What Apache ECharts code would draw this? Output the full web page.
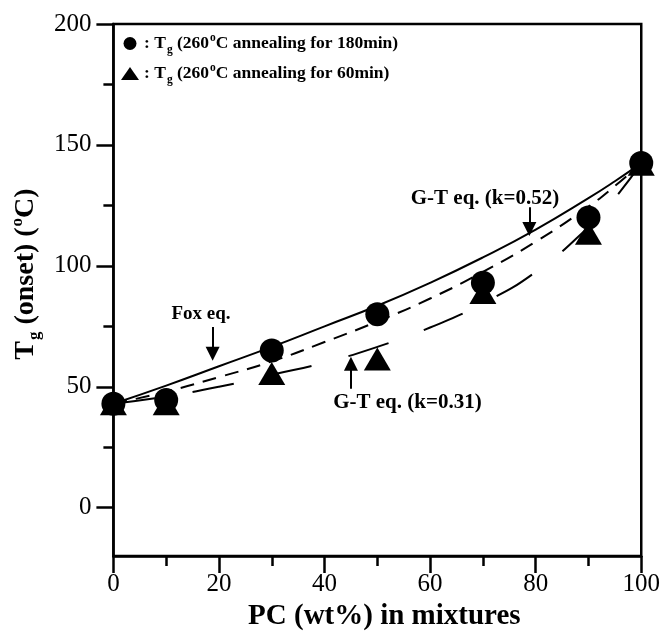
<!DOCTYPE html>
<html><head><meta charset="utf-8">
<script src="https://cdn.jsdelivr.net/npm/echarts@6/dist/echarts.min.js"></script>
<style>html,body{margin:0;padding:0;background:#fff}#c{width:663px;height:636px}</style>
</head><body><div id="c"></div><script>
// ---- data ----
const pcWt = [0, 10, 30, 50, 70, 90, 100];
const tg180 = [43, 44.5, 65, 80, 93, 120, 142.5];
const tg60 = [43, 43, 55.5, 61.5, 89, 113.5, 142];
const curveX = [0, 10, 20, 30, 40, 50, 60, 70, 80, 90, 95, 100];
const foxEq = [43, 50.5, 58.5, 66.5, 75, 83.5, 93, 103.5, 115, 128, 135, 142.5];
const gt052 = [43, 48, 54, 60.5, 68.5, 77, 86.5, 97.5, 110, 124.5, 133, 142.5];
const gt031 = [43, 46, 50, 55, 60, 66.5, 74.5, 84.5, 97.5, 116, 128, 142.5];
const yTicks = [0, 50, 100, 150, 200];
const yMinorTicks = [25, 75, 125, 175];
const annText = ['Fox eq.', 'G-T eq. (k=0.52)', 'G-T eq. (k=0.31)'];
const annTextX = [16.6, 70.4, 55.7];
const annTextY = [80.1, 127.8, 43.5];
const annFontSize = [19, 21, 21];
const arrowX = [18.8, 78.8, 45];
const arrowFrom = [74.7, 124.2, 49.2];
const arrowTo = [63.7, 115.2, 59.5];

const S180 = 'Tg (260°C annealing for 180min)';
const S60 = 'Tg (260°C annealing for 60min)';
const FF = 'Liberation Serif';
const zip = (xs, ys) => xs.map((x, i) => [x, ys[i]]);

const legendRich = {
  n: {fontFamily: FF, fontWeight: 'bold', fontSize: 17.5, color: '#000', lineHeight: 21},
  sub: {fontFamily: FF, fontWeight: 'bold', fontSize: 11.5, color: '#000', lineHeight: 11, padding: [13, 0, 0, 1]},
  sup: {fontFamily: FF, fontWeight: 'bold', fontSize: 11.5, color: '#000', lineHeight: 11, padding: [0, 0, 11, 1]}
};
const nameRich = {
  n: {fontFamily: FF, fontWeight: 'bold', fontSize: 28, color: '#000', lineHeight: 30},
  sub: {fontFamily: FF, fontWeight: 'bold', fontSize: 17, color: '#000', lineHeight: 17, padding: [18, 0, 0, 1]},
  sup: {fontFamily: FF, fontWeight: 'bold', fontSize: 17, color: '#000', lineHeight: 17, padding: [0, 0, 16, 1]}
};

const chart = echarts.init(document.getElementById('c'), null, {renderer: 'canvas'});
const axisLine = {show: true, onZero: false, lineStyle: {color: '#000', width: 2.5}};
const curveStyle = (type) => ({color: '#000', width: 2, type: type});

chart.setOption({
  animation: false,
  backgroundColor: '#fff',
  grid: {left: 110, right: 19, top: 24, bottom: 78, show: true, borderColor: '#000', borderWidth: 2.5, backgroundColor: 'transparent'},
  legend: {
    left: 116, top: 26, orient: 'vertical', itemGap: 5, itemWidth: 18, itemHeight: 13,
    data: [{name: S180, icon: 'circle'}, {name: S60, icon: 'triangle'}],
    formatter: function (n) {
      return n === S180
        ? '{n|: T}{sub|g}{n| (260}{sup|o}{n|C annealing for 180min)}'
        : '{n|: T}{sub|g}{n| (260}{sup|o}{n|C annealing for 60min)}';
    },
    textStyle: {rich: legendRich},
    selectedMode: false
  },
  xAxis: {
    type: 'value', min: 0, max: 100, interval: 20,
    axisLine: axisLine,
    axisTick: {show: true, inside: false, length: 17, lineStyle: {color: '#000', width: 2.5}},
    minorTick: {show: true, splitNumber: 2, length: 10, lineStyle: {color: '#000', width: 2.5}},
    splitLine: {show: false}, minorSplitLine: {show: false},
    axisLabel: {color: '#000', fontFamily: FF, fontSize: 25, margin: 16},
    name: 'PC (wt%) in mixtures', nameLocation: 'middle', nameGap: 40,
    nameTextStyle: {color: '#000', fontFamily: FF, fontWeight: 'bold', fontSize: 29, padding: [0, 0, 0, 14]}
  },
  yAxis: [{
    type: 'value', min: -20, max: 200,
    axisLine: axisLine,
    axisTick: {show: true, inside: false, length: 17, customValues: yTicks, lineStyle: {color: '#000', width: 2.5}},
    splitLine: {show: false},
    axisLabel: {color: '#000', fontFamily: FF, fontSize: 25, margin: 22, customValues: yTicks},
    name: '{n|T}{sub|g}{n| (onset) (}{sup|o}{n|C)}', nameLocation: 'middle', nameGap: 63, nameRotate: 90,
    nameTextStyle: {rich: nameRich, padding: [0, 0, 0, 32]}
  }, {
    type: 'value', min: -20, max: 200, position: 'left', offset: 0,
    axisLine: {show: false, onZero: false},
    axisTick: {show: true, inside: false, length: 10, customValues: yMinorTicks, lineStyle: {color: '#000', width: 2.5}},
    axisLabel: {show: false}, splitLine: {show: false}
  }],
  series: [
    {name: 'Fox eq.', type: 'line', data: zip(curveX, foxEq), smooth: true, showSymbol: false, silent: true,
     lineStyle: curveStyle('solid'), z: 2},
    {name: 'G-T eq. (k=0.52)', type: 'line', data: zip(curveX, gt052), smooth: true, showSymbol: false, silent: true,
     lineStyle: curveStyle([14, 9]), z: 2},
    {name: 'G-T eq. (k=0.31)', type: 'line', data: zip(curveX, gt031), smooth: true, showSymbol: false, silent: true,
     lineStyle: curveStyle([42, 38]), z: 2},
    {name: S60, type: 'scatter', data: zip(pcWt, tg60), symbol: 'triangle', symbolSize: [27, 23],
     itemStyle: {color: '#000', opacity: 1}, z: 4},
    {name: S180, type: 'scatter', data: zip(pcWt, tg180), symbol: 'circle', symbolSize: 24,
     itemStyle: {color: '#000', opacity: 1}, z: 5},
    {name: 'annotations', type: 'scatter', silent: true, symbolSize: 0,
     itemStyle: {color: '#000', opacity: 1},
     data: annText.map((t, i) => ({value: [annTextX[i], annTextY[i]], name: t,
                                    label: {fontSize: annFontSize[i]}})),
     label: {show: true, position: 'inside', formatter: p => p.name, color: '#000', opacity: 1,
             fontFamily: FF, fontWeight: 'bold', fontSize: 21},
     markLine: {
       silent: true, symbol: ['none', 'triangle'], symbolSize: 14, animation: false,
       lineStyle: {color: '#000', width: 2, type: 'solid', opacity: 1},
       label: {show: false},
       data: arrowX.map((x, i) => [{coord: [x, arrowFrom[i]]}, {coord: [x, arrowTo[i]]}])
     }, z: 6}
  ]
});
</script></body></html>
